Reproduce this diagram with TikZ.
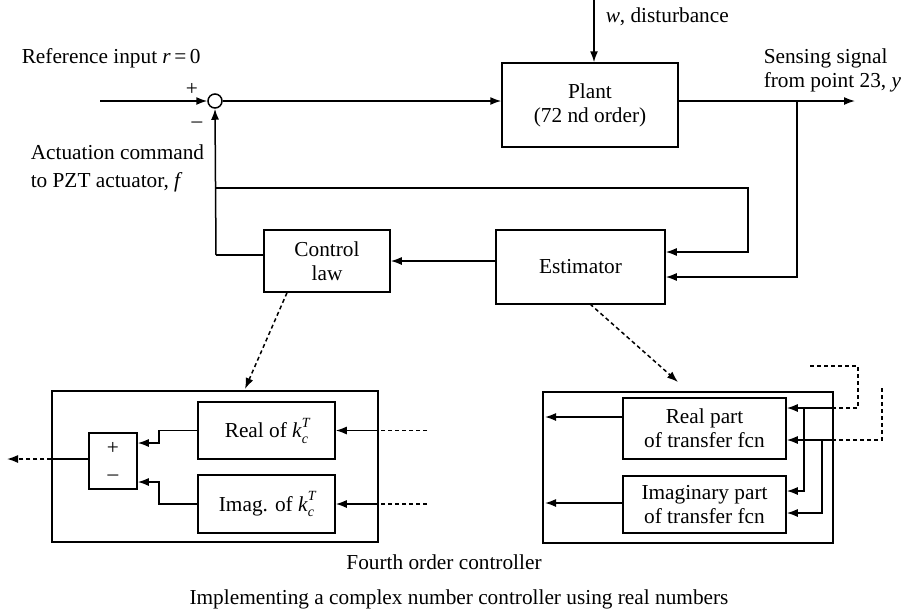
\documentclass[tikz,border=0pt]{standalone}
\usepackage{fontspec}
\setmainfont{Liberation Serif}
\usetikzlibrary{arrows.meta,calc}
\newcommand{\kcT}{\textit{k}\makebox[0pt][l]{\raisebox{0.5em}{\fontsize{14}{14}\selectfont\textit{T}}}\raisebox{-0.25em}{\fontsize{14}{14}\selectfont\textit{c}}}
\begin{document}
\begin{tikzpicture}[x=1pt,y=-1pt, line width=1.5pt,
  txt/.style={font=\fontsize{21.3}{24}\selectfont},
  box/.style={draw, inner sep=0pt, align=center, txt},
  lbl/.style={inner sep=0pt, align=left, txt},
  arr/.style={-{Latex[length=11pt,width=8pt]}},
  dsh/.style={dash pattern=on 4pt off 3pt}]
\useasboundingbox (0,0) rectangle (904,614);

% main loop
\node[draw, circle, minimum size=14pt, inner sep=0pt] (sum) at (215,101) {};
\node[box, minimum width=176pt, minimum height=84pt] (plant) at (590,105) {Plant\\(72 nd order)};
\node[box, minimum width=169pt, minimum height=74pt] (est) at (580.5,267) {Estimator};
\node[box, minimum width=126pt, minimum height=62pt] (cl) at (327,261) {Control\\law};

\coordinate (rin) at (100,101);
\coordinate (wtop) at (594,0);
\coordinate (yout) at (855,101);
\coordinate (ybr) at (797,101);
\coordinate (fbl) at (216,188);
\coordinate (fbr) at (748,188);
\coordinate (clc) at (216,255);

\draw[arr] (rin) -- (sum.west);
\draw[arr] (sum.east) -- (sum.east -| plant.west);
\draw[arr] (wtop) -- (wtop |- plant.north);
\draw[arr] (plant.east |- sum) -- (yout);
\draw[arr] (ybr) -- (ybr |- 0,277) -- (est.east |- 0,277);
\draw[arr] (fbl) -- (fbr) -- (fbr |- 0,252) -- (est.east |- 0,252);
\draw[arr] (est.west |- cl) -- (cl.east);
\draw (cl.west |- clc) -- (clc);
\draw[arr] (clc) -- (sum.south);

\node[lbl, anchor=base west] (rlab) at (21,63) {Reference input \textit{r}\,=\,0};
\node[lbl, anchor=base] (plus) at (192,95) {+};
\node[lbl, anchor=base] (minus) at (197,127) {\textendash};
\node[lbl, anchor=base west] (wlab) at (605,22) {\textit{w}, disturbance};
\node[lbl, anchor=base west] (slab) at (763,87) {Sensing signal\\from point 23, \textit{y}};
\node[lbl, anchor=base west] (alab) at (30,187) {Actuation command\\[4pt]to PZT actuator, \textit{f}};

% left: fourth order controller (control law)
\node[draw, minimum width=326pt, minimum height=151pt, inner sep=0pt] (lb) at (215,466.5) {};
\node[box, minimum width=137pt, minimum height=57pt] (rk) at (266.5,430.5) {Real of \kcT};
\node[box, minimum width=137pt, minimum height=58pt] (ik) at (266.5,504) {Imag. of \kcT};
\node[draw, minimum width=48pt, minimum height=56pt, inner sep=0pt] (pm) at (113,461) {};
\node[lbl, anchor=center] (pmp) at (113,448) {+};
\node[lbl, anchor=center] (pmm) at (113,478) {\textendash};

\coordinate (lout) at (7,459);
\coordinate (rkin) at (427,430.5);
\coordinate (ikin) at (427,504);
\draw[arr] (rk.west) -- (159,430.5) -- (159,443) -- (pm.east |- 0,443);
\draw[arr] (ik.west) -- (159,504) -- (159,482) -- (pm.east |- 0,482);
\draw (pm.west |- lout) -- (lb.west |- lout);
\draw[arr, dsh] (lb.west |- lout) -- (lout);
\draw[dsh] (rkin) -- (lb.east |- rkin);
\draw[arr] (lb.east |- rkin) -- (rk.east);
\draw[dsh] (ikin) -- (lb.east |- ikin);
\draw[arr] (lb.east |- ikin) -- (ik.east);
\draw[arr, dsh] (cl.south -| 287,0) -- (245,389);

% right: estimator implementation
\node[draw, minimum width=290pt, minimum height=151pt, inner sep=0pt] (rb) at (688,467.5) {};
\node[box, minimum width=163pt, minimum height=61pt] (rt) at (704.5,428.5) {Real part\\of transfer fcn};
\node[box, minimum width=163pt, minimum height=57pt] (it) at (704.5,504.5) {Imaginary part\\of transfer fcn};

\draw[arr] (rt.west |- 0,417) -- (545,417);
\draw[arr] (it.west |- 0,503) -- (545,503);
\coordinate (da) at (810,366);
\coordinate (db) at (882,388);
\draw[dsh] (da) -- (858,366) -- (858,408) -- (rb.east |- 0,408);
\draw[arr] (rb.east |- 0,408) -- (rt.east |- 0,408);
\draw[dsh] (db) -- (882,440) -- (rb.east |- 0,440);
\draw[arr] (rb.east |- 0,440) -- (rt.east |- 0,440);
\draw[arr] (804,408) -- (804,491) -- (it.east |- 0,491);
\draw[arr] (822,440) -- (822,513) -- (it.east |- 0,513);
\draw[arr, dsh] (590,304) -- (678,382);

\node[txt, anchor=base] (cap1) at (444,569) {Fourth order controller};
\node[txt, anchor=base] (cap2) at (459,604) {Implementing a complex number controller using real numbers};
\end{tikzpicture}
\end{document}
